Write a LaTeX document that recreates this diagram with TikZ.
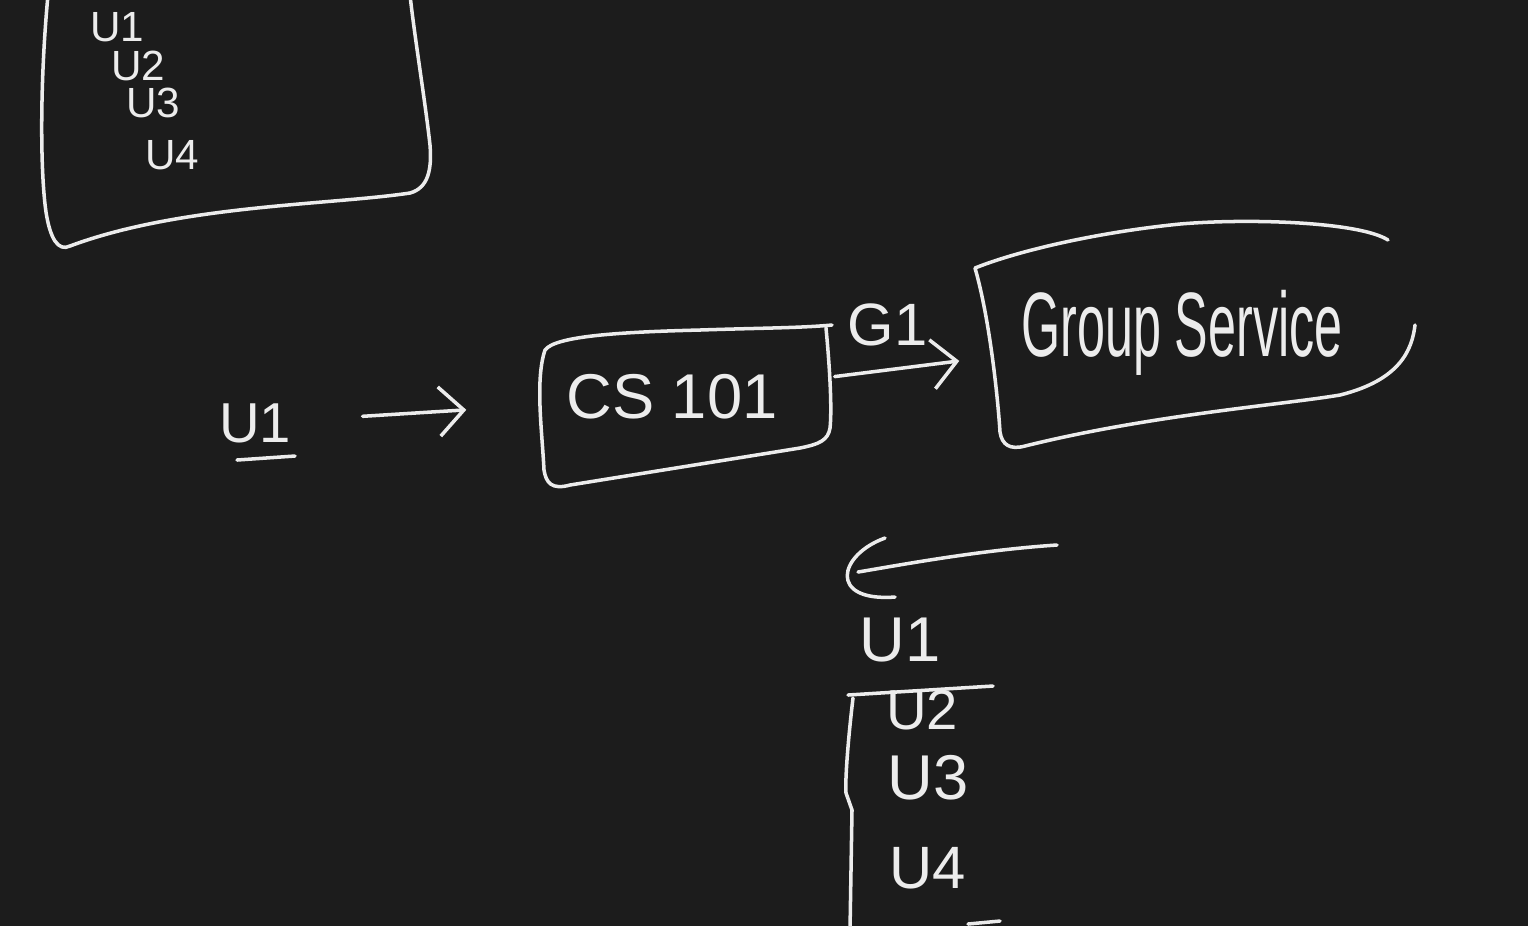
\documentclass[tikz,border=0pt]{standalone}
\usepackage{fontspec}
\usepackage{graphicx}
\setmainfont{Liberation Sans}
\usetikzlibrary{arrows.meta, positioning}
\definecolor{board}{HTML}{1C1C1C}
\definecolor{chalk}{HTML}{ECECEC}

\begin{document}
\begin{tikzpicture}[
  x=0.01cm, y=-0.01cm,
  hand/.style={draw=chalk, line width=1pt, line cap=round, line join=round},
  arrow/.style={hand, -{Straight Barb[length=7pt, width=14pt]}},
  txt/.style={text=chalk, inner sep=2pt},
  small/.style={txt, font=\fontsize{12}{12}\selectfont},
  mid/.style={txt, font=\fontsize{17}{17}\selectfont}
]
  \fill[board] (0,0) rectangle (1528,926);
  \useasboundingbox (0,0) rectangle (1528,926);

  % list box, top left
  \draw[hand] (48,-5) .. controls (40,80) and (40,170) .. (46,212)
    .. controls (50,238) and (58,252) .. (70,246)
    .. controls (180,205) and (330,205) .. (410,193)
    .. controls (428,188) and (432,170) .. (430,145)
    .. controls (425,100) and (415,40) .. (410,-5);
  \node[small] (la) at (117,27) {U1};
  \node[small] (lb) at (138,66) {U2};
  \node[small] (lc) at (153,103) {U3};
  \node[small] (ld) at (172,155) {U4};

  % user, course and group service
  \node[txt, font=\fontsize{16}{16}\selectfont] (user) at (255,423) {U1};
  \draw[hand] (237,460) -- (295,456);
  \node[txt, font=\fontsize{18}{18}\selectfont,
    minimum width=2.9cm, minimum height=1.3cm] (cs) at (672,397) {CS 101};
  \node[txt, font=\fontsize{26}{26}\selectfont,
    minimum width=4.2cm, minimum height=1.9cm] (grp) at (1182,333)
    {\scalebox{0.55}[1]{Group Service}};

  \draw[hand] (826,328) .. controls (830,370) and (832,410) .. (830,428)
    .. controls (828,440) and (820,444) .. (800,448)
    -- (570,485) .. controls (552,490) and (546,483) .. (544,470)
    .. controls (542,430) and (535,380) .. (545,350)
    .. controls (555,336) and (620,332) .. (700,330)
    .. controls (760,328) and (800,328) .. (832,325);
  \draw[hand] (1388,240) .. controls (1360,222) and (1250,218) .. (1180,224)
    .. controls (1100,232) and (1020,250) .. (975,268)
    .. controls (990,320) and (998,400) .. (1000,432)
    .. controls (1002,445) and (1010,450) .. (1025,446)
    .. controls (1150,415) and (1280,405) .. (1340,395)
    .. controls (1400,380) and (1412,350) .. (1415,325);

  \draw[arrow, shorten <=0.64cm, shorten >=0.6cm] (user) -- (cs);
  \draw[arrow, shorten <=0.17cm, shorten >=0.12cm] (cs) --
    node[mid, above=4pt, xshift=-2pt] (g1) {G1} (grp);

  % list coming back
  \coordinate (back) at (1057,545);
  \coordinate (head) at (858,572);
  \draw[hand] (back) .. controls (980,550) and (900,565) .. (head);
  \draw[hand] (885,538) .. controls (838,555) and (828,602) .. (895,597);
  \node[txt, font=\fontsize{18}{18}\selectfont] (ra) at (900,640) {U1};
  \draw[hand] (848,695) -- (993,686);
  \node[txt, font=\fontsize{16}{16}\selectfont] (rb) at (922,710) {U2};
  \node[txt, font=\fontsize{18}{18}\selectfont] (rc) at (928,778) {U3};
  \node[txt, font=\fontsize{17}{17}\selectfont] (rd) at (928,868) {U4};
  \draw[hand] (853,698) .. controls (848,740) and (845,780) .. (846,793)
    -- (852,810) -- (850,930);
  \draw[hand] (968,924) -- (1000,921);
\end{tikzpicture}
\end{document}
